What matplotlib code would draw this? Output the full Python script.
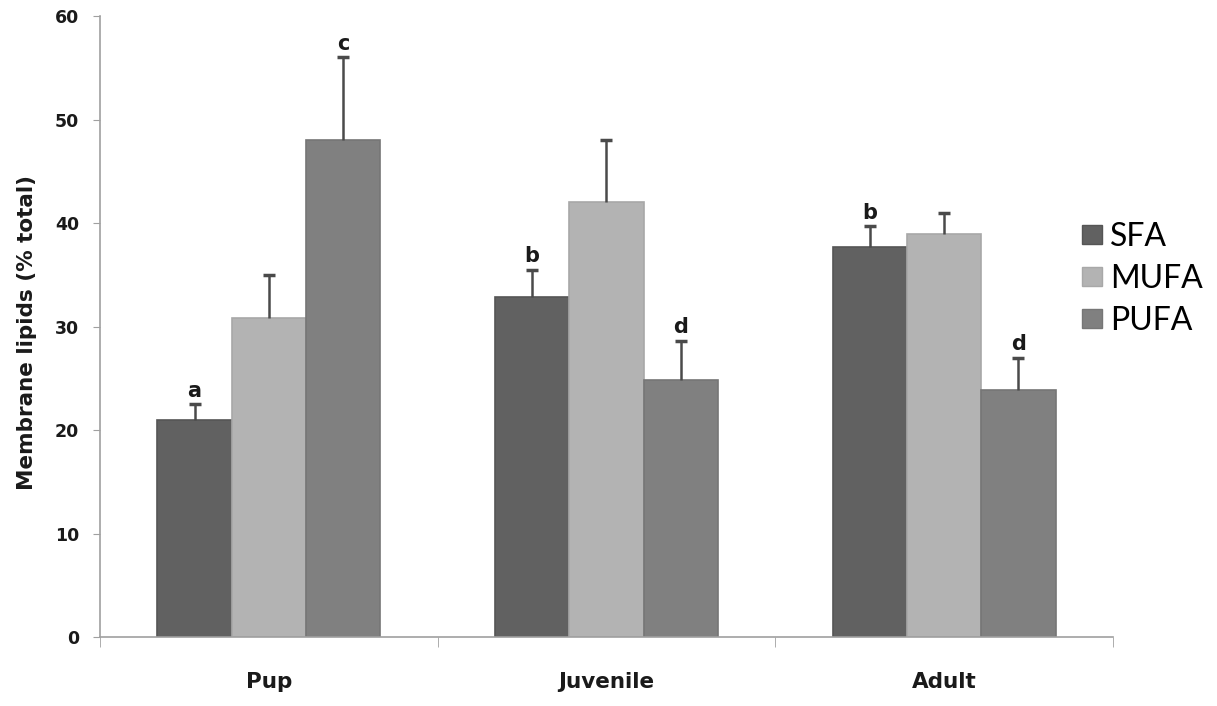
import numpy as np
import matplotlib
matplotlib.use('Agg')
from matplotlib import pyplot as plt
from matplotlib.patches import Patch

# Data
groups = ['Pup', 'Juvenile', 'Adult']
series = ['SFA', 'MUFA', 'PUFA']
sfa = [21.0, 32.9, 37.7]
mufa = [30.8, 42.0, 38.9]
pufa = [48.0, 24.8, 23.9]
sfa_err = [1.5, 2.6, 2.0]
mufa_err = [4.2, 6.0, 2.1]
pufa_err = [8.0, 3.8, 3.1]
sfa_letters = ['a', 'b', 'b']
mufa_letters = ['', '', '']
pufa_letters = ['c', 'd', 'd']

# Plot aspects
colors = ['#616161', '#b3b3b3', '#808080']
edge_colors = ['#555555', '#a8a8a8', '#767676']
err_color = '#4a4a4a'
axis_color = '#a0a0a0'
text_color = '#1a1a1a'
bar_width = 0.22

values = [sfa, mufa, pufa]
errors = [sfa_err, mufa_err, pufa_err]
letters = [sfa_letters, mufa_letters, pufa_letters]

fig = plt.figure(figsize=(12.17, 7.06), dpi=100)
ax = fig.add_axes([0.0822, 0.0977, 0.8323, 0.8796])

x = np.arange(len(groups))
for i in range(len(series)):
    pos = x + (i - 1) * bar_width
    tops = np.array(values[i]) + np.array(errors[i])
    ax.bar(pos, values[i], width=bar_width, color=colors[i], edgecolor=edge_colors[i],
           linewidth=1.2, zorder=2)
    # upper error bars only
    ax.vlines(pos, values[i], tops, colors=err_color, linewidth=1.8, zorder=3)
    ax.plot(pos, tops, linestyle='none', marker='_', markersize=8.5, markeredgewidth=2.5,
            color=err_color, zorder=3)
    for j in range(len(groups)):
        if letters[i][j]:
            ax.text(pos[j], tops[j] + 0.35, letters[i][j], ha='center', va='bottom',
                    fontsize=15, fontweight='bold', color=text_color)

ax.set_xlim(-0.5, 2.5)
ax.set_ylim(0, 60)
ax.set_yticks(np.arange(0, 61, 10))
ax.set_xticks(x)
ax.set_xticklabels(groups, fontsize=15.5, fontweight='bold', color=text_color)
ax.set_xticks([-0.5, 0.5, 1.5, 2.5], minor=True)
ax.tick_params(axis='x', which='major', length=0, pad=25)
ax.tick_params(axis='x', which='minor', length=7, color=axis_color, direction='out')
ax.tick_params(axis='y', which='major', length=5, color=axis_color, labelsize=12.5,
               labelcolor=text_color, pad=10)
for lab in ax.get_yticklabels():
    lab.set_fontweight('bold')

ax.set_ylabel('Membrane lipids (% total)', fontsize=15.5, fontweight='bold', color=text_color)
ax.yaxis.set_label_coords(-0.062, 0.49)

for side in ['top', 'right']:
    ax.spines[side].set_visible(False)
for side in ['left', 'bottom']:
    ax.spines[side].set_color(axis_color)
    ax.spines[side].set_linewidth(1.2)

handles = [Patch(facecolor=colors[i], edgecolor=edge_colors[i], label=series[i])
           for i in range(len(series))]
fig.legend(handles=handles, loc='center left', bbox_to_anchor=(0.889, 0.605), frameon=False,
           prop={'family': 'Lato', 'size': 23}, handlelength=0.62, handleheight=0.55,
           handletextpad=0.25, labelspacing=0.38, borderpad=0, borderaxespad=0)

fig.savefig('out.png', dpi=100)
